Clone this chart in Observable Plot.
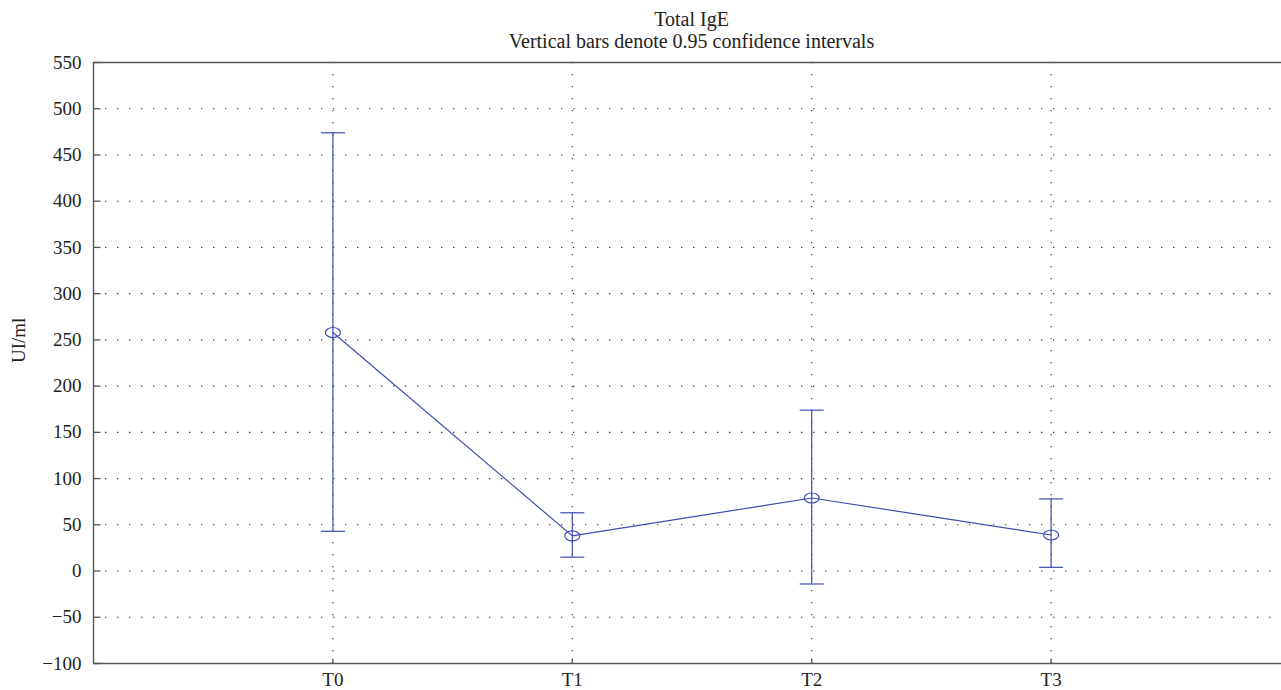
<!DOCTYPE html>
<html>
<head>
<meta charset="utf-8">
<script src="https://cdn.jsdelivr.net/npm/d3@7"></script>
<script src="https://cdn.jsdelivr.net/npm/@observablehq/plot@0.6"></script>
<style>
  html, body { margin: 0; padding: 0; background: #fff; }
  #chart { width: 1281px; height: 690px; overflow: hidden; }
  #chart svg text { font-family: 'Liberation Serif', 'DejaVu Serif', serif; }
</style>
</head>
<body>
<div id="chart"></div>
<script>
// ---- data ----
const times = ["T0", "T1", "T2", "T3"];
const means = [258, 38, 79, 39];
const lower = [43, 15, -14, 4];
const upper = [474, 63, 174, 78];
const yTicks = [-100, -50, 0, 50, 100, 150, 200, 250, 300, 350, 400, 450, 500, 550];
const titleText = "Total IgE";
const subtitleText = "Vertical bars denote 0.95 confidence intervals";
const yLabel = "UI/ml";

const data = times.map((t, i) => ({i, t, mean: means[i], lo: lower[i], hi: upper[i]}));
const xIdx = times.map((t, i) => i);

const blue = "#3b4db3";
const axisColor = "#555";
const font = "'Liberation Serif', 'DejaVu Serif', serif";

// custom symbols
const ellipse = {draw(ctx) {
  const rx = 7.5, ry = 5, k = 0.5523;
  ctx.moveTo(rx, 0);
  ctx.bezierCurveTo(rx, ry * k, rx * k, ry, 0, ry);
  ctx.bezierCurveTo(-rx * k, ry, -rx, ry * k, -rx, 0);
  ctx.bezierCurveTo(-rx, -ry * k, -rx * k, -ry, 0, -ry);
  ctx.bezierCurveTo(rx * k, -ry, rx, -ry * k, rx, 0);
  ctx.closePath();
}};
const cap = {draw(ctx) { ctx.moveTo(-12, 0); ctx.lineTo(12, 0); }};
const yTickSym = {draw(ctx) { ctx.moveTo(0, 0); ctx.lineTo(7, 0); }};
const xTickSym = {draw(ctx) { ctx.moveTo(0, 0); ctx.lineTo(0, -5); }};

const chart = Plot.plot({
  width: 1281,
  height: 690,
  marginLeft: 93,
  marginRight: 0,
  marginTop: 62,
  marginBottom: 27,
  style: {fontFamily: font, fontSize: "19px", color: "#222", background: "#fff"},
  x: {type: "linear", domain: [-1, 4], range: [93, 1290]},
  y: {domain: [-100, 550]},
  marks: [
    // dotted grid
    Plot.gridY(yTicks.slice(1, -1), {stroke: "#333", strokeOpacity: 1, strokeWidth: 1.1, strokeDasharray: "1.3,10.7"}),
    Plot.gridX(xIdx, {stroke: "#333", strokeOpacity: 1, strokeWidth: 1.1, strokeDasharray: "1.3,10.7"}),
    // axes
    Plot.axisY(yTicks, {tickSize: 0, tickPadding: 12, label: null, fontSize: 19}),
    Plot.axisX(xIdx, {tickSize: 0, tickPadding: 9, tickFormat: (d) => times[d], label: null, fontSize: 19}),
    Plot.dot(yTicks, {x: -1, y: (d) => d, symbol: yTickSym, stroke: axisColor, strokeWidth: 1.3, r: 5}),
    Plot.dot(xIdx, {x: (d) => d, y: -100, symbol: xTickSym, stroke: axisColor, strokeWidth: 1.3, r: 5}),
    // frame lines
    Plot.ruleY([550, -100], {stroke: axisColor, strokeWidth: 1.4}),
    Plot.ruleX([-1], {stroke: axisColor, strokeWidth: 1.4}),
    // data
    Plot.ruleX(data, {x: "i", y1: "lo", y2: "hi", stroke: blue, strokeWidth: 1.2}),
    Plot.dot(data, {x: "i", y: "lo", symbol: cap, stroke: blue, strokeWidth: 1.2, r: 5}),
    Plot.dot(data, {x: "i", y: "hi", symbol: cap, stroke: blue, strokeWidth: 1.2, r: 5}),
    Plot.line(data, {x: "i", y: "mean", stroke: blue, strokeWidth: 1.2}),
    Plot.dot(data, {x: "i", y: "mean", symbol: ellipse, stroke: blue, fill: "none", strokeWidth: 1.2, r: 5}),
    // titles
    Plot.text([titleText], {text: (d) => d, frameAnchor: "top", dx: 4, dy: -51, fontSize: 20, fill: "#222"}),
    Plot.text([subtitleText], {text: (d) => d, frameAnchor: "top", dx: 4, dy: -29, fontSize: 20, fill: "#222"}),
    Plot.text([yLabel], {text: (d) => d, frameAnchor: "left", rotate: -90, dx: -75, fontSize: 19, fill: "#222"})
  ]
});
document.getElementById("chart").appendChild(chart);
</script>
</body>
</html>
